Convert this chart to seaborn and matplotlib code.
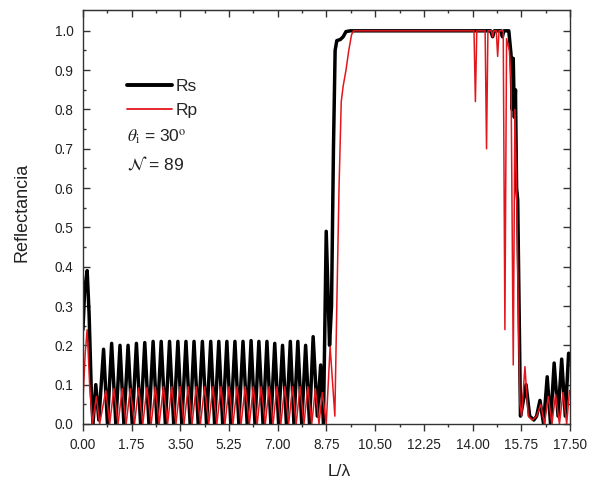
import numpy as np
import pandas as pd
import seaborn as sns
from matplotlib import pyplot as plt
from matplotlib.lines import Line2D

# Rs (black): peaks / troughs of the curve
rs_x = [0.00, 0.06, 0.15, 0.22, 0.30, 0.36, 0.46, 0.57,
        0.74, 0.88, 1.03, 1.18, 1.33, 1.47, 1.62, 1.77, 1.92, 2.07,
        2.22, 2.37, 2.52, 2.66, 2.81, 2.96, 3.11, 3.26, 3.41, 3.55,
        3.70, 3.85, 3.99, 4.14, 4.29, 4.44, 4.59, 4.73, 4.88, 5.02,
        5.17, 5.31, 5.46, 5.60, 5.75, 5.90, 6.04, 6.18, 6.32, 6.47,
        6.61, 6.75, 6.89, 7.03, 7.17, 7.31, 7.45, 7.58, 7.72, 7.86,
        8.00, 8.14, 8.27, 8.42, 8.54, 8.64,
        8.74, 8.86, 8.93, 9.00, 9.06, 9.12, 9.25, 9.35, 9.45, 9.60,
        14.65, 14.72, 14.78, 15.02, 15.07, 15.12, 15.30,
        15.38, 15.42, 15.46, 15.50, 15.54, 15.58, 15.62, 15.66, 15.72,
        15.80, 15.92, 16.05, 16.20, 16.30, 16.42, 16.55, 16.68, 16.80,
        16.93, 17.07, 17.20, 17.33, 17.45, 17.50]
rs_y = [0.24, 0.34, 0.39, 0.28, 0.08, 0.00, 0.10, 0.01,
        0.19, 0.00, 0.205, 0.00, 0.20, 0.00, 0.20, 0.00, 0.205, 0.00,
        0.207, 0.00, 0.21, 0.00, 0.21, 0.00, 0.21, 0.00, 0.21, 0.00,
        0.21, 0.00, 0.21, 0.00, 0.21, 0.00, 0.21, 0.00, 0.21, 0.00,
        0.21, 0.00, 0.21, 0.00, 0.21, 0.00, 0.212, 0.00, 0.21, 0.00,
        0.21, 0.00, 0.205, 0.00, 0.20, 0.00, 0.21, 0.00, 0.21, 0.00,
        0.20, 0.00, 0.222, 0.02, 0.15, 0.00,
        0.49, 0.20, 0.30, 0.70, 0.95, 0.975, 0.978, 0.985, 0.998, 1.00,
        1.00, 0.985, 1.00, 1.00, 0.985, 1.00, 1.00,
        0.94, 0.80, 0.93, 0.78, 0.85, 0.60, 0.57, 0.35, 0.02,
        0.05, 0.10, 0.02, 0.01, 0.02, 0.06, 0.00, 0.12, 0.00,
        0.155, 0.02, 0.165, 0.02, 0.18, 0.17]

# Rp (red)
rp_x = [0.00, 0.08, 0.15, 0.24, 0.34, 0.48, 0.60,
        0.82, 0.96, 1.11, 1.26, 1.41, 1.55, 1.70, 1.85, 2.00, 2.15,
        2.30, 2.45, 2.60, 2.74, 2.89, 3.04, 3.19, 3.34, 3.49, 3.63,
        3.78, 3.92, 4.07, 4.22, 4.37, 4.52, 4.67, 4.81, 4.96, 5.10,
        5.25, 5.39, 5.54, 5.68, 5.83, 5.98, 6.12, 6.26, 6.40, 6.55,
        6.69, 6.83, 6.97, 7.11, 7.25, 7.39, 7.53, 7.66, 7.80, 7.94,
        8.08, 8.22, 8.35, 8.48, 8.60, 8.74, 8.88, 9.05,
        9.12, 9.20, 9.28, 9.35, 9.45, 9.55, 9.65, 9.72,
        14.05, 14.10, 14.15, 14.45, 14.50, 14.55, 14.68, 14.72, 14.76,
        14.85, 14.90, 14.95, 15.10, 15.16, 15.22, 15.32, 15.38, 15.46,
        15.52, 15.58, 15.64, 15.70, 15.76, 15.88, 16.00, 16.15, 16.30,
        16.45, 16.58, 16.72, 16.85, 16.98, 17.12, 17.25, 17.38, 17.48, 17.50]
rp_y = [0.06, 0.18, 0.24, 0.10, 0.00, 0.07, 0.00,
        0.085, 0.00, 0.09, 0.00, 0.09, 0.00, 0.09, 0.00, 0.092, 0.00,
        0.093, 0.00, 0.094, 0.00, 0.095, 0.00, 0.095, 0.00, 0.095, 0.00,
        0.095, 0.00, 0.095, 0.00, 0.095, 0.00, 0.095, 0.00, 0.095, 0.00,
        0.095, 0.00, 0.095, 0.00, 0.095, 0.00, 0.095, 0.00, 0.095, 0.00,
        0.095, 0.00, 0.095, 0.00, 0.095, 0.00, 0.095, 0.00, 0.095, 0.00,
        0.095, 0.00, 0.09, 0.00, 0.08, 0.00, 0.197, 0.02,
        0.30, 0.60, 0.82, 0.86, 0.90, 0.95, 0.99, 1.00,
        1.00, 0.82, 1.00, 1.00, 0.70, 1.00, 1.00, 0.985, 1.00,
        1.00, 0.935, 1.00, 1.00, 0.24, 0.98, 0.95, 0.88, 0.15,
        0.80, 0.60, 0.30, 0.05, 0.02, 0.146, 0.02, 0.01, 0.02,
        0.05, 0.00, 0.07, 0.00, 0.075, 0.00, 0.08, 0.00, 0.085, 0.08]

x_ticks = [0.00, 1.75, 3.50, 5.25, 7.00, 8.75, 10.50, 12.25, 14.00, 15.75, 17.50]
y_ticks = [0.0, 0.1, 0.2, 0.3, 0.4, 0.5, 0.6, 0.7, 0.8, 0.9, 1.0]

rs = pd.DataFrame({'L': rs_x, 'R': rs_y})
rp = pd.DataFrame({'L': rp_x, 'R': rp_y})

sns.set_style('ticks')
plt.rcParams['font.family'] = ['Liberation Sans', 'DejaVu Sans']
plt.rcParams['mathtext.fontset'] = 'stix'

fig = plt.figure(figsize=(5.91, 4.87), dpi=100)
ax = fig.add_axes([0.1404, 0.1294, 0.8241, 0.8501])

red = '#e3161d'
sns.lineplot(data=rs, x='L', y='R', color='black', lw=2.5, ax=ax, sort=False)
sns.lineplot(data=rp, x='L', y='R', color=red, lw=1.1, ax=ax, sort=False)

ax.set_xlim(0, 17.5)
ax.set_ylim(0, 1.053)
ax.set_xticks(x_ticks)
ax.set_xticklabels(['%.2f' % t for t in x_ticks])
ax.set_xticks(np.array(x_ticks[:-1]) + 0.875, minor=True)
ax.set_yticks(y_ticks)
ax.set_yticklabels(['%.1f' % t for t in y_ticks])
ax.set_yticks(np.array(y_ticks[:-1]) + 0.05, minor=True)

edge = '#333333'
for s in ax.spines.values():
    s.set_visible(True)
    s.set_color(edge)
    s.set_linewidth(1.0)

ax.tick_params(axis='x', which='both', direction='out', colors=edge,
               labelcolor='#222222', labelsize=9.8, pad=5)
ax.tick_params(axis='y', which='both', direction='in', right=True, colors=edge,
               labelcolor='#222222', labelsize=9.8, pad=7)
ax.tick_params(which='major', length=5, width=1)
ax.tick_params(which='minor', length=2.5, width=1)

top = ax.secondary_xaxis('top')
top.set_xticks(x_ticks)
top.set_xticks(np.array(x_ticks[:-1]) + 0.875, minor=True)
top.tick_params(which='both', direction='in', labeltop=False, colors=edge)
top.tick_params(which='major', length=5, width=1)
top.tick_params(which='minor', length=2.5, width=1)
top.spines['top'].set_color(edge)

ax.set_xlabel('L/λ', fontsize=12.5, color='#222222')
ax.xaxis.set_label_coords(0.527, -0.096)
ax.set_ylabel('Reflectancia', fontsize=13, color='#222222')
ax.yaxis.set_label_coords(-0.108, 0.51)

handles = [Line2D([], [], color='black', lw=2.8), Line2D([], [], color=red, lw=1.3)]
ax.legend(handles, ['Rs', 'Rp'], loc='upper left', bbox_to_anchor=(0.09, 0.833),
          frameon=False, fontsize=12.5, handlelength=2.6, handletextpad=0.2,
          borderpad=0, borderaxespad=0, labelspacing=0.5)

ax.text(0.09, 0.693, r'$\theta_{\rm i}$ = 30$^{\rm o}$', transform=ax.transAxes,
        fontsize=12.5, va='center', ha='left', color='#222222')
ax.text(0.09, 0.628, r'$\mathcal{N}$ = 89', transform=ax.transAxes,
        fontsize=12.5, va='center', ha='left', color='#222222')

fig.savefig('out.png', dpi=100)
